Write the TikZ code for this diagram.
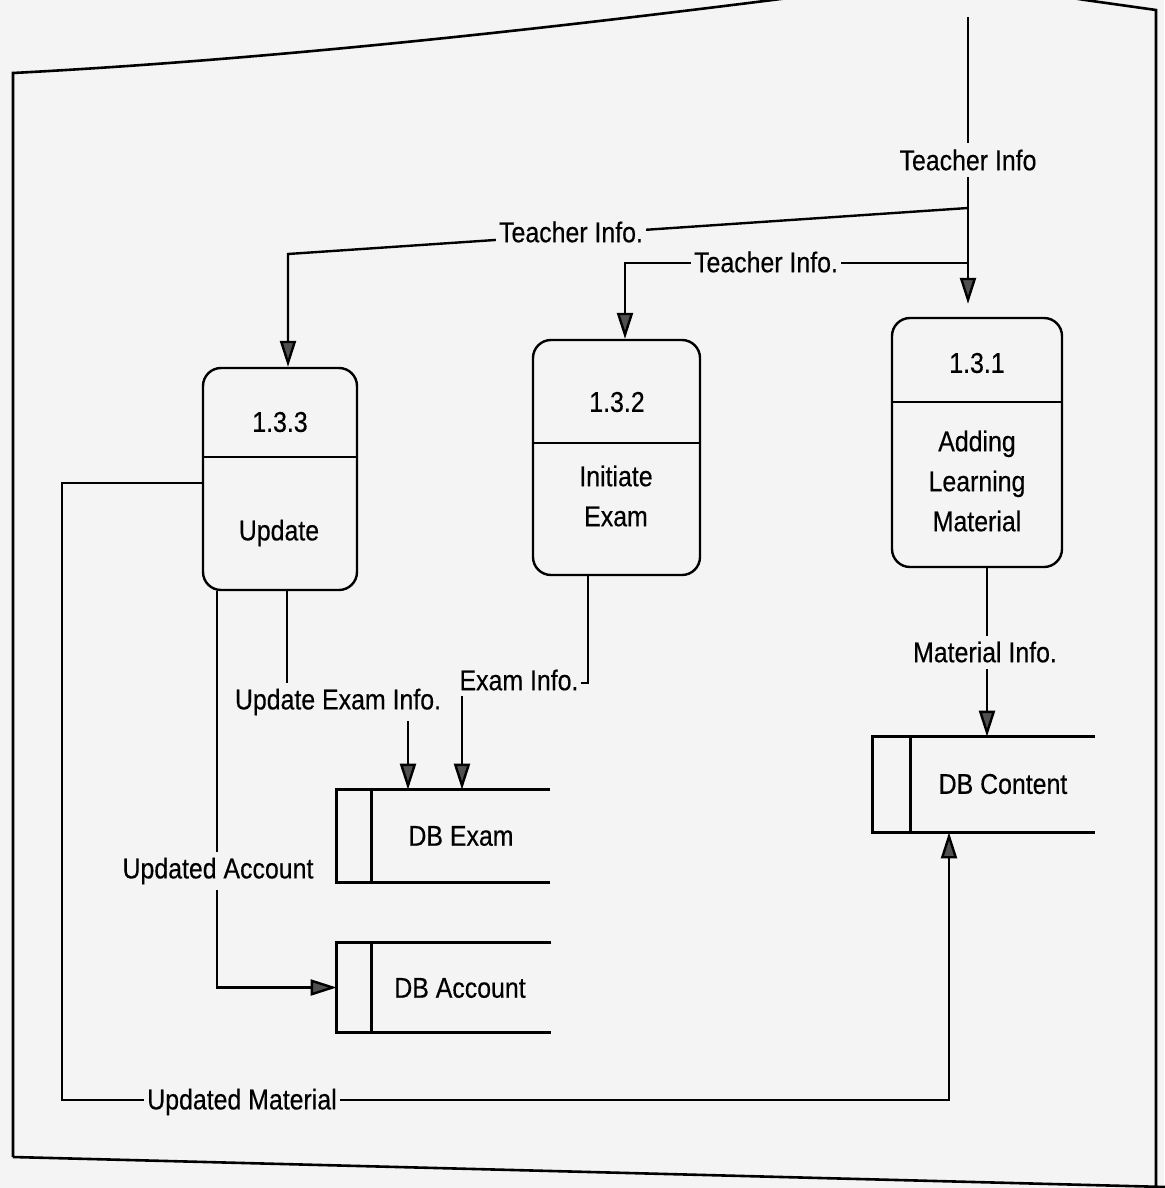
\documentclass[tikz,border=0pt]{standalone}
\usepackage{fontspec}
\setmainfont{Liberation Sans}[FakeStretch=0.87,FakeBold=0.4]
\usetikzlibrary{arrows.meta}
\definecolor{paper}{RGB}{244,244,244}
\definecolor{tipgray}{RGB}{80,80,80}
\begin{document}
\begin{tikzpicture}[x=0.5pt,y=-0.5pt,
  ink/.style={line width=1.2pt, draw=black},
  proc/.style={ink, rounded corners=9pt, inner sep=0pt},
  storearea/.style={inner sep=0pt},
  flow/.style={ink, -{Triangle[length=13pt,width=8pt,fill=tipgray]}},
  lbl/.style={fill=paper, inner xsep=1.5pt, inner ysep=3pt, font=\fontsize{14.3}{20}\selectfont},
  txt/.style={align=center, inner sep=0pt, font=\fontsize{14.3}{20}\selectfont}]

% page
\fill[paper] (0,0) rectangle (1164,1188);
\useasboundingbox (0,0) rectangle (1164,1188);

% outer frame
\draw[line width=1.3pt] (13,1157) -- (13,73)
  .. controls (300,58) and (600,22) .. (820,-6)
  .. controls (920,-18) and (1010,-12) .. (1085,0)
  -- (1156,10) -- (1156,1195);
\draw[line width=1.3pt] (13,1157) -- (1166,1187);

% processes
\node[proc, minimum width=77pt, minimum height=111pt] (p133) at (280,479) {};
\node[proc, minimum width=83.5pt, minimum height=117.5pt] (p132) at (616.5,457.5) {};
\node[proc, minimum width=85pt, minimum height=124.5pt] (p131) at (977,442.5) {};
\draw[ink] (203,457) -- (357,457);
\draw[ink] (533,443) -- (700,443);
\draw[ink] (892,402) -- (1062,402);
\node[txt] (p133id) at (280,422) {1.3.3};
\node[txt] (p133nm) at (279,533) {Update};
\node[txt] (p132id) at (617,402) {1.3.2};
\node[txt] (p132nm) at (616,496) {Initiate\\Exam};
\node[txt] (p131id) at (977,363) {1.3.1};
\node[txt] (p131nm) at (977,481) {Adding\\Learning\\Material};

% data stores
\node[storearea, minimum width=106.5pt, minimum height=46pt] (dbexam) at (443.5,836) {};
\node[storearea, minimum width=107pt, minimum height=44.5pt] (dbacc) at (444,987.5) {};
\node[storearea, minimum width=111pt, minimum height=47.5pt] (dbcont) at (984,784.5) {};
\foreach \s/\w in {dbexam/17.5pt, dbacc/17.5pt, dbcont/19pt}{
  \draw[ink] (\s.north east) -- (\s.north west) -- (\s.south west) -- (\s.south east);
  \draw[ink] ([xshift=\w]\s.north west) -- ([xshift=\w]\s.south west);
}
\node[txt] (dbexamnm) at (461,836) {DB Exam};
\node[txt] (dbaccnm) at (460,988) {DB Account};
\node[txt] (dbcontnm) at (1003,784) {DB Content};

% routing points
\coordinate (tisrc) at (968,17);
\coordinate (t131) at ([yshift=6.5pt]p131.north);
\coordinate (j1) at (968,208);
\coordinate (k1) at (288,254);
\coordinate (j2) at (968,263);
\coordinate (k2) at (625,263);
\coordinate (xu) at (287,703);
\coordinate (ue) at (408,703);
\coordinate (xe) at (588,683);
\coordinate (ee) at (462,683);
\coordinate (xa) at (217,987);
\coordinate (xm) at (62,483);
\coordinate (ym) at (949,1100);
\coordinate (xc) at (987,600);

% flows
\draw[flow] (tisrc) -- (t131 -| tisrc);
\draw[flow] (j1) -- (k1) -- (p133.north -| k1);
\draw[flow] (j2) -- (k2) -- (p132.north -| k2);
\draw[flow] (p133.south -| xu) -- (xu) -| (ue |- dbexam.north);
\draw[flow] (p132.south -| xe) -- (xe) -| (ee |- dbexam.north);
\draw[flow] (p133.south -| xa) |- (dbacc.west);
\draw[flow] (p133.west |- xm) -- (xm) |- (ym) -- (ym |- dbcont.south);
\draw[flow] (p131.south -| xc) -- (dbcont.north -| xc);

% flow labels
\node[lbl] (lti) at (968,160) {Teacher Info};
\node[lbl] (lti1) at (571,232) {Teacher Info.};
\node[lbl] (lti2) at (766,262) {Teacher Info.};
\node[lbl] (lupx) at (338,702) {Update Exam Info.};
\node[lbl] (lex) at (519,680) {Exam Info.};
\node[lbl] (lacc) at (218,871) {Updated Account};
\node[lbl] (lmat) at (242,1102) {Updated Material};
\node[lbl] (lmi) at (985,652) {Material Info.};
\end{tikzpicture}
\end{document}
